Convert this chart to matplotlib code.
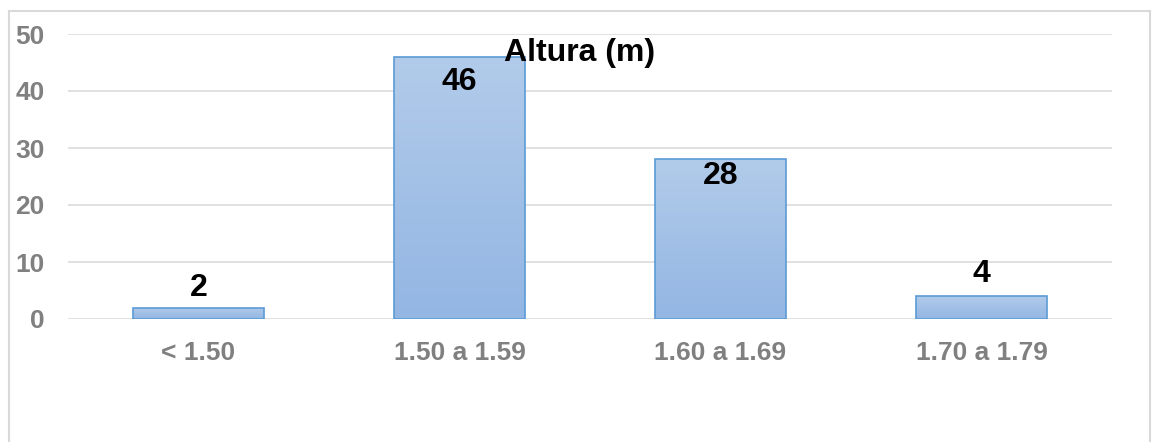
"""Bar chart: Altura (m)."""
import matplotlib
matplotlib.use('Agg')
import matplotlib.pyplot as plt
from matplotlib.colors import LinearSegmentedColormap
from matplotlib.lines import Line2D
import numpy as np

plt.rcParams['font.family'] = ['Liberation Sans', 'DejaVu Sans']

categories = ['< 1.50', '1.50 a 1.59', '1.60 a 1.69', '1.70 a 1.79']
values = [2, 46, 28, 4]
# label offsets (points) relative to the bar top
label_offsets = [14, -18, -12, 16]

fig = plt.figure(figsize=(11.52, 4.42), dpi=100)
ax = fig.add_axes([68/1152, 1 - 319/442, (1112 - 68)/1152, (319 - 34)/442])

x = np.arange(len(categories))
bars = ax.bar(x, values, width=0.5, facecolor='none', edgecolor='#5B9BD5',
              linewidth=1.2, zorder=3)

# vertical gradient fill, light at top, a bit darker at bottom
cmap = LinearSegmentedColormap.from_list('bar', ['#93B6E3', '#B2CBEA'])
grad = np.linspace(0, 1, 256).reshape(-1, 1)
for b in bars:
    x0, w, h = b.get_x(), b.get_width(), b.get_height()
    im = ax.imshow(grad, cmap=cmap, origin='lower', aspect='auto',
                   extent=(x0, x0 + w, 0, h), zorder=2)
    im.set_clip_path(b)

for xi, v, off in zip(x, values, label_offsets):
    ax.annotate(str(v), xy=(xi, v), xytext=(0, off), textcoords='offset points',
                ha='center', va='center', fontsize=23, fontweight='bold',
                color='black', zorder=5)

ax.set_xlim(-0.5, len(categories) - 0.5)
ax.set_ylim(0, 50)
ax.set_yticks(range(0, 51, 10))
ax.set_xticks(x)
ax.set_xticklabels(categories)
ax.grid(axis='y', color='#D9D9D9', linewidth=1.1, zorder=0)
ax.set_axisbelow(True)
for s in ax.spines.values():
    s.set_visible(False)
ax.tick_params(length=0, labelsize=19, labelcolor='#808080')
ax.tick_params(axis='y', pad=17)
ax.tick_params(axis='x', pad=16)
for lab in ax.get_xticklabels() + ax.get_yticklabels():
    lab.set_fontweight('bold')

fig.text(580/1152, 1 - 53/442, 'Altura (m)', ha='center', va='center',
         fontsize=23, fontweight='bold', color='black', zorder=10)

# outer chart frame (bottom edge is cut off)
fc = '#D9D9D9'
l, r, t = 9/1152, 1150/1152, 1 - 11/442
for xs, ys in [([l, l], [0, t]), ([l, r], [t, t]), ([r, r], [t, 0])]:
    fig.add_artist(Line2D(xs, ys, transform=fig.transFigure, color=fc, lw=1.5))

fig.savefig('out.png', dpi=100)
